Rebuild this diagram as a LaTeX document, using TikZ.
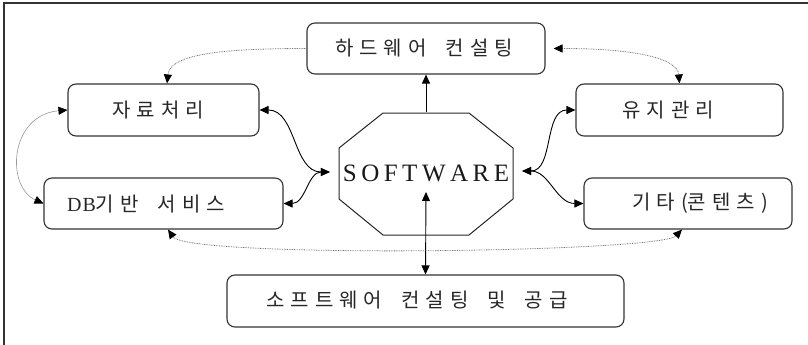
\documentclass[tikz,border=0pt]{standalone}
\usepackage{fontspec}
\setmainfont{Liberation Serif}
\newfontfamily\kr{Noto Sans CJK KR}
\newcommand\krfont{\kr\fontsize{20}{22}\selectfont\spaceskip=6pt\relax}
\newcommand\wg{\hspace{19pt}}
\usetikzlibrary{arrows.meta,calc}
\begin{document}
\begin{tikzpicture}[x=1pt,y=-1pt,
  box/.style={draw=black!80, line width=1.1pt, rounded corners=8pt, inner sep=0pt, minimum height=51pt},
  lbl/.style={font=\krfont, text=black!85, inner sep=0pt},
  conn/.style={draw=black, line width=0.9pt},
  arr/.style={conn,-{Triangle[length=9pt,width=8pt]}},
  darr/.style={conn,{Triangle[length=9pt,width=8pt]}-{Triangle[length=9pt,width=8pt]}},
  dotl/.style={draw=black!55, line width=0.8pt, dash pattern=on 0.8pt off 0.9pt},
  thinl/.style={draw=black!40, line width=0.6pt},
  oct/.style={draw=black!85, line width=1pt}
]
\useasboundingbox (0,0) rectangle (808,345);
% frame
\draw[black!80, line width=1.4pt] (808,3) -- (4,3) -- (4,345);

% boxes
\node[box, minimum width=238pt] (hw) at (426,48.5) {};
\node[box, minimum width=191pt, minimum height=52pt] (jr) at (163.5,110) {};
\node[box, minimum width=207pt, minimum height=52pt] (yj) at (679.5,110) {};
\node[box, minimum width=239pt] (db) at (163.5,203.5) {};
\node[box, minimum width=208pt] (gi) at (688,203.5) {};
\node[box, minimum width=397pt, minimum height=52pt] (sp) at (425.5,301) {};

% labels
\node[lbl] (hwt) at (424,48.5) {하 드 웨 어\wg 컨 설 팅};
\node[lbl] (jrt) at (158,110) {자 료 처 리};
\node[lbl] (yjt) at (668,110) {유 지 관 리};
\node[lbl] (dbt) at (146,204) {{\fontspec{Liberation Serif}\fontsize{20}{22}\selectfont D\kern1pt B}기 반\wg 서 비 스};
\node[lbl] (git) at (700,203) {기 타 (콘 텐 츠 )};
\node[lbl] (spt) at (417,300) {소 프 트 웨 어\wg 컨 설 팅\wg 및\wg 공 급};

% central octagon
\node[inner sep=0pt, minimum width=174pt, minimum height=122pt,
      font=\fontsize{25}{28}\selectfont, text=black!90] (sw) at (426,173.5)
  {S\hspace{4.5pt}O\hspace{4.5pt}F\hspace{4.5pt}T\hspace{4.5pt}W\hspace{4.5pt}A\hspace{4.5pt}R\hspace{4.5pt}E};
\draw[oct] ($(sw)+(-43,-60.5)$) -- ($(sw)+(43,-60.5)$) -- ($(sw)+(87,-25.5)$) -- ($(sw)+(87,25.5)$)
  -- ($(sw)+(43,61.5)$) -- ($(sw)+(-43,61.5)$) -- ($(sw)+(-87,25.5)$) -- ($(sw)+(-87,-25.5)$) -- cycle;

% helper coordinates
\coordinate (swin) at ($(sw.center)+(0,18.5)$);
\coordinate (swl) at ($(sw.west)+(-9,-1.5)$);
\coordinate (swr) at ($(sw.east)+(9,-2.5)$);
\coordinate (hwr) at ($(hw.east)+(8,0)$);
\coordinate (jrn) at ($(jr.north)+(3.5,0)$);
\coordinate (dbs) at ($(db.south)+(4.5,0)$);
\coordinate (gis) at ($(gi.south)+(-6,0)$);

% solid connectors
\draw[arr] (sw.north) -- (hw.south);
\draw[darr] (swin) -- (sp.north);
\draw[darr] (jr.east) to[out=0,in=180] (swl);
\draw[darr] (db.east) to[out=0,in=180] (swl);
\draw[darr] (swr) to[out=0,in=180] (yj.west);
\draw[darr] (swr) to[out=0,in=180] (gi.west);

% dotted / gray connectors
\draw[dotl, -{Triangle[length=9pt,width=8pt,black]}] (hw.west) .. controls +(-87,0) and +(3,-29) .. (jrn);
\draw[dotl, {Triangle[length=9pt,width=8pt,black]}-{Triangle[length=9pt,width=8pt,black]}] (hwr) .. controls +(87,0) and +(-2,-24) .. (yj.north);
\draw[dotl, {Triangle[length=9pt,width=8pt,black]}-{Triangle[length=9pt,width=8pt,black]}] (dbs) .. controls +(20,29) and +(-22,23) .. (gis);
\draw[thinl, {Triangle[length=9pt,width=8pt,black]}-{Triangle[length=9pt,width=8pt,black]}] (jr.west) .. controls +(-58,5) and +(-38,-17) .. (db.west);
\end{tikzpicture}
\end{document}
